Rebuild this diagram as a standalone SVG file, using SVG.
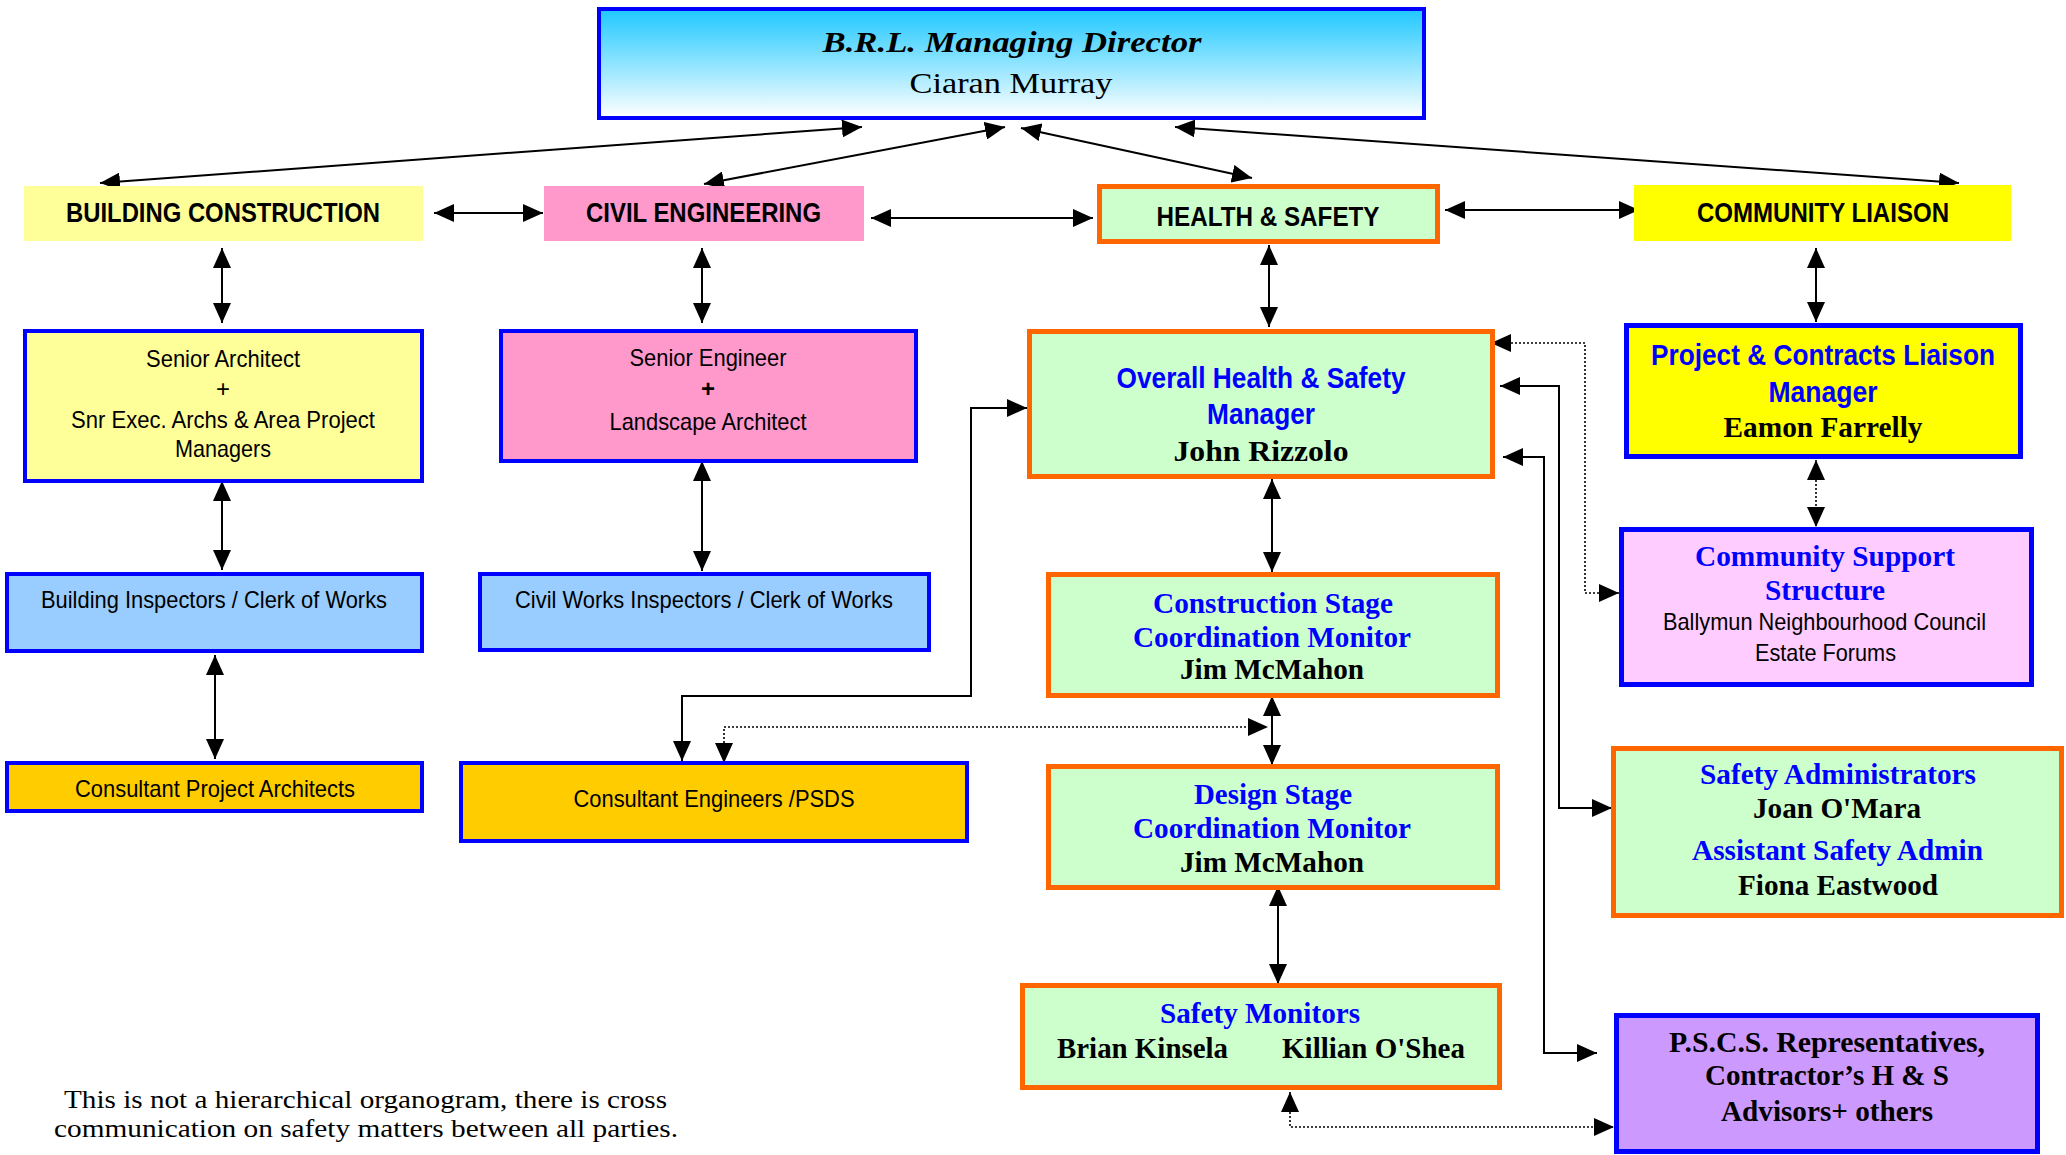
<svg xmlns="http://www.w3.org/2000/svg" width="2066" height="1155" viewBox="0 0 2066 1155">
<style>
.sans{font-family:"Liberation Sans",Arial,sans-serif;font-size:24px;fill:#000;text-anchor:middle}
.hdr{font-family:"Liberation Sans",Arial,sans-serif;font-size:28px;font-weight:bold;fill:#000;text-anchor:middle}
.bsans{font-family:"Liberation Sans",Arial,sans-serif;font-size:30px;font-weight:bold;fill:#0000ff;text-anchor:middle}
.bser{font-family:"Liberation Serif","Times New Roman",serif;font-size:30px;font-weight:bold;fill:#0000ff;text-anchor:middle}
.kser{font-family:"Liberation Serif","Times New Roman",serif;font-size:30px;font-weight:bold;fill:#000;text-anchor:middle}
.note{font-family:"Liberation Serif","Times New Roman",serif;font-size:26px;fill:#000;text-anchor:middle}
.bb{stroke:#0000ff;stroke-width:4}
.ob{stroke:#ff6600;stroke-width:5}
.c{fill:none;stroke:#000;stroke-width:2;marker-start:url(#ah);marker-end:url(#ah)}
.d{fill:none;stroke:#000;stroke-width:1.6;stroke-dasharray:2 2;marker-start:url(#ah);marker-end:url(#ah)}
</style>
<defs>
<linearGradient id="sky" x1="0" y1="0" x2="0" y2="1">
<stop offset="0" stop-color="#1ec8ff"/>
<stop offset="1" stop-color="#ffffff"/>
</linearGradient>
<marker id="ah" markerUnits="userSpaceOnUse" markerWidth="20" markerHeight="18" refX="20" refY="9" orient="auto-start-reverse">
<path d="M0,0 L20,9 L0,18 Z" fill="#000"/>
</marker>
</defs>
<rect width="2066" height="1155" fill="#fff"/>

<g id="connectors">
<line class="c" x1="100" y1="183" x2="862" y2="127"/>
<line class="c" x1="704" y1="184" x2="1005" y2="127"/>
<line class="c" x1="1252" y1="178" x2="1021" y2="128"/>
<line class="c" x1="1959" y1="183" x2="1175" y2="127"/>
<line class="c" x1="434" y1="213" x2="543" y2="213"/>
<line class="c" x1="871" y1="218" x2="1093" y2="218"/>
<line class="c" x1="1445" y1="210" x2="1639" y2="210"/>
<line class="c" x1="222" y1="248" x2="222" y2="323"/>
<line class="c" x1="702" y1="248" x2="702" y2="323"/>
<line class="c" x1="1269" y1="245" x2="1269" y2="327"/>
<line class="c" x1="1816" y1="248" x2="1816" y2="322"/>
<line class="c" x1="222" y1="481" x2="222" y2="570"/>
<line class="c" x1="702" y1="461" x2="702" y2="571"/>
<line class="c" x1="215" y1="655" x2="215" y2="759"/>
<line class="c" x1="1272" y1="479" x2="1272" y2="572"/>
<line class="c" x1="1272" y1="696" x2="1272" y2="765"/>
<line class="c" x1="1278" y1="886" x2="1278" y2="984"/>
<path class="d" d="M1816,460 V527"/>
<path class="d" d="M1491,343 H1585 V593 H1619"/>
<path class="c" d="M1500,386 H1559 V808 H1612"/>
<path class="c" d="M1503,457 H1544 V1053 H1597"/>
<path class="c" d="M1027,408 H971 V696 H682 V761"/>
<path class="d" d="M724,763 V727 H1268"/>
<path class="d" d="M1290,1092 V1127 H1614"/>
</g>

<g id="director">
<rect x="599" y="9" width="825" height="109" fill="url(#sky)" class="bb"/>
<text x="1012" y="52" textLength="379" lengthAdjust="spacingAndGlyphs" style="font-family:'Liberation Serif','Times New Roman',serif;font-size:29px;font-weight:bold;font-style:italic;text-anchor:middle">B.R.L. Managing Director</text>
<text x="1011" y="93" textLength="203" lengthAdjust="spacingAndGlyphs" style="font-family:'Liberation Serif','Times New Roman',serif;font-size:29px;text-anchor:middle">Ciaran Murray</text>
</g>

<g id="building-construction">
<rect x="24" y="186" width="399" height="55" fill="#ffff99"/>
<text class="hdr" x="223" y="222" textLength="314" lengthAdjust="spacingAndGlyphs">BUILDING CONSTRUCTION</text>
</g>
<g id="civil-engineering">
<rect x="544" y="186" width="320" height="55" fill="#ff99cc"/>
<text class="hdr" x="703.5" y="222" textLength="235" lengthAdjust="spacingAndGlyphs">CIVIL ENGINEERING</text>
</g>
<g id="health-safety">
<rect x="1099.5" y="186.5" width="338" height="55" fill="#ccffcc" class="ob"/>
<text class="hdr" x="1268" y="226" textLength="223" lengthAdjust="spacingAndGlyphs">HEALTH &amp; SAFETY</text>
</g>
<g id="community-liaison">
<rect x="1634" y="185" width="377" height="56" fill="#ffff00"/>
<text class="hdr" x="1823" y="222" textLength="252" lengthAdjust="spacingAndGlyphs">COMMUNITY LIAISON</text>
</g>

<g id="senior-architect">
<rect x="25" y="331" width="397" height="150" fill="#ffff99" class="bb"/>
<text class="sans" x="223" y="367" textLength="154" lengthAdjust="spacingAndGlyphs">Senior Architect</text>
<text class="sans" x="223" y="397">+</text>
<text class="sans" x="223" y="428" textLength="304" lengthAdjust="spacingAndGlyphs">Snr Exec. Archs &amp; Area Project</text>
<text class="sans" x="223" y="457" textLength="96" lengthAdjust="spacingAndGlyphs">Managers</text>
</g>
<g id="senior-engineer">
<rect x="501" y="331" width="415" height="130" fill="#ff99cc" class="bb"/>
<text class="sans" x="708" y="366" textLength="157" lengthAdjust="spacingAndGlyphs">Senior Engineer</text>
<text class="sans" x="708" y="397" font-weight="bold">+</text>
<text class="sans" x="708" y="430" textLength="197" lengthAdjust="spacingAndGlyphs">Landscape Architect</text>
</g>
<g id="overall-hs-manager">
<rect x="1029.5" y="331.5" width="463" height="145" fill="#ccffcc" class="ob"/>
<text class="bsans" x="1261" y="388" textLength="289" lengthAdjust="spacingAndGlyphs">Overall Health &amp; Safety</text>
<text class="bsans" x="1261" y="424" textLength="108" lengthAdjust="spacingAndGlyphs">Manager</text>
<text class="kser" x="1261" y="461" textLength="175" lengthAdjust="spacingAndGlyphs">John Rizzolo</text>
</g>
<g id="project-contracts-liaison">
<rect x="1626.5" y="325.5" width="394" height="131" fill="#ffff00" stroke="#0000ff" stroke-width="5"/>
<text class="bsans" x="1823" y="365" textLength="344" lengthAdjust="spacingAndGlyphs">Project &amp; Contracts Liaison</text>
<text class="bsans" x="1823" y="402" textLength="109" lengthAdjust="spacingAndGlyphs">Manager</text>
<text class="kser" x="1823" y="437" textLength="199" lengthAdjust="spacingAndGlyphs">Eamon Farrelly</text>
</g>

<g id="building-inspectors">
<rect x="7" y="574" width="415" height="77" fill="#99ccff" class="bb"/>
<text class="sans" x="214" y="608" textLength="346" lengthAdjust="spacingAndGlyphs">Building Inspectors / Clerk of Works</text>
</g>
<g id="civil-works-inspectors">
<rect x="480" y="574" width="449" height="76" fill="#99ccff" class="bb"/>
<text class="sans" x="704" y="608" textLength="378" lengthAdjust="spacingAndGlyphs">Civil Works Inspectors / Clerk of Works</text>
</g>
<g id="consultant-project-architects">
<rect x="7" y="763" width="415" height="48" fill="#ffcc00" class="bb"/>
<text class="sans" x="215" y="797" textLength="280" lengthAdjust="spacingAndGlyphs">Consultant Project Architects</text>
</g>
<g id="consultant-engineers">
<rect x="461" y="763" width="506" height="78" fill="#ffcc00" class="bb"/>
<text class="sans" x="714" y="807" textLength="281" lengthAdjust="spacingAndGlyphs">Consultant Engineers /PSDS</text>
</g>

<g id="construction-stage">
<rect x="1048.5" y="574.5" width="449" height="121" fill="#ccffcc" class="ob"/>
<text class="bser" x="1273" y="613" textLength="240" lengthAdjust="spacingAndGlyphs">Construction Stage</text>
<text class="bser" x="1272" y="647" textLength="278" lengthAdjust="spacingAndGlyphs">Coordination Monitor</text>
<text class="kser" x="1272" y="679" textLength="184" lengthAdjust="spacingAndGlyphs">Jim McMahon</text>
</g>
<g id="design-stage">
<rect x="1048.5" y="766.5" width="449" height="121" fill="#ccffcc" class="ob"/>
<text class="bser" x="1273" y="804" textLength="158" lengthAdjust="spacingAndGlyphs">Design Stage</text>
<text class="bser" x="1272" y="838" textLength="278" lengthAdjust="spacingAndGlyphs">Coordination Monitor</text>
<text class="kser" x="1272" y="872" textLength="184" lengthAdjust="spacingAndGlyphs">Jim McMahon</text>
</g>
<g id="community-support">
<rect x="1621.5" y="529.5" width="410" height="155" fill="#ffccff" stroke="#0000ff" stroke-width="5"/>
<text class="bser" x="1825" y="566" textLength="260" lengthAdjust="spacingAndGlyphs">Community Support</text>
<text class="bser" x="1825" y="600" textLength="120" lengthAdjust="spacingAndGlyphs">Structure</text>
<text class="sans" x="1824.5" y="630" textLength="323" lengthAdjust="spacingAndGlyphs">Ballymun Neighbourhood Council</text>
<text class="sans" x="1825.5" y="661" textLength="141" lengthAdjust="spacingAndGlyphs">Estate Forums</text>
</g>
<g id="safety-administrators">
<rect x="1613.5" y="748.5" width="448" height="167" fill="#ccffcc" class="ob"/>
<text class="bser" x="1838" y="784" textLength="276" lengthAdjust="spacingAndGlyphs">Safety Administrators</text>
<text class="kser" x="1837" y="818" textLength="168" lengthAdjust="spacingAndGlyphs">Joan O'Mara</text>
<text class="bser" x="1837.5" y="860" textLength="291" lengthAdjust="spacingAndGlyphs">Assistant Safety Admin</text>
<text class="kser" x="1838" y="895" textLength="200" lengthAdjust="spacingAndGlyphs">Fiona Eastwood</text>
</g>
<g id="safety-monitors">
<rect x="1022.5" y="985.5" width="477" height="102" fill="#ccffcc" class="ob"/>
<text class="bser" x="1260" y="1023" textLength="200" lengthAdjust="spacingAndGlyphs">Safety Monitors</text>
<text class="kser" x="1142.5" y="1058" textLength="171" lengthAdjust="spacingAndGlyphs">Brian Kinsela</text>
<text class="kser" x="1373.5" y="1058" textLength="183" lengthAdjust="spacingAndGlyphs">Killian O'Shea</text>
</g>
<g id="pscs">
<rect x="1616.5" y="1015.5" width="421" height="136" fill="#cc99ff" stroke="#0000ff" stroke-width="5"/>
<text class="kser" x="1827" y="1052" textLength="316" lengthAdjust="spacingAndGlyphs">P.S.C.S. Representatives,</text>
<text class="kser" x="1827" y="1085" textLength="244" lengthAdjust="spacingAndGlyphs">Contractor’s H &amp; S</text>
<text class="kser" x="1827" y="1121" textLength="212" lengthAdjust="spacingAndGlyphs">Advisors+ others</text>
</g>

<g id="footnote">
<text class="note" x="365.5" y="1108" textLength="603" lengthAdjust="spacingAndGlyphs">This is not a hierarchical organogram, there is cross</text>
<text class="note" x="366" y="1137" textLength="624" lengthAdjust="spacingAndGlyphs">communication on safety matters between all parties.</text>
</g>
</svg>
